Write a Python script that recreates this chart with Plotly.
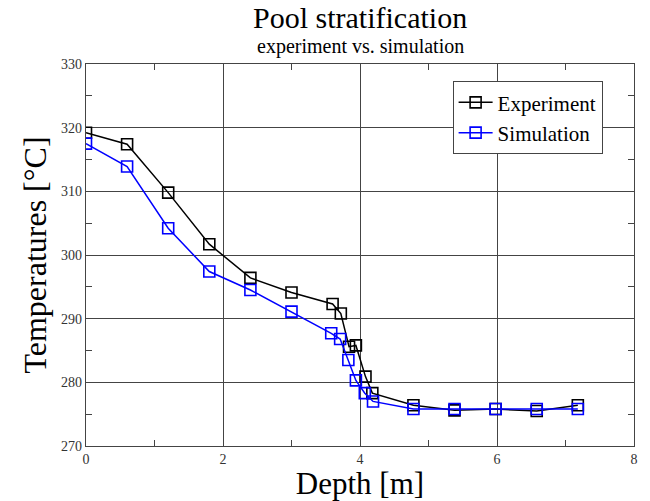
import plotly.graph_objects as go

depth_exp = [0, 0.6, 1.2, 1.8, 2.4, 3.0, 3.6, 3.72, 3.84, 3.94, 4.08, 4.18, 4.78, 5.38, 5.98, 6.58, 7.18]
temp_exp = [319.2, 317.4, 309.8, 301.7, 296.4, 294.1, 292.3, 290.8, 285.6, 285.8, 280.9, 278.3, 276.4, 275.6, 275.8, 275.5, 276.4]

depth_sim = [0, 0.6, 1.2, 1.8, 2.4, 3.0, 3.58, 3.71, 3.83, 3.94, 4.07, 4.19, 4.78, 5.38, 5.98, 6.58, 7.18]
temp_sim = [317.5, 313.9, 304.2, 297.4, 294.5, 291.1, 287.7, 286.8, 283.5, 280.3, 278.3, 277.0, 275.8, 275.8, 275.8, 275.8, 275.8]

FONT = "Liberation Serif"

fig = go.Figure()
fig.add_trace(go.Scatter(
    x=depth_exp, y=temp_exp, name="Experiment", mode="lines+markers",
    line=dict(color="black", width=1.5),
    marker=dict(symbol="square-open", size=11, color="black", line=dict(width=1.6)),
))
fig.add_trace(go.Scatter(
    x=depth_sim, y=temp_sim, name="Simulation", mode="lines+markers",
    line=dict(color="#0000ff", width=1.5),
    marker=dict(symbol="square-open", size=11, color="#0000ff", line=dict(width=1.6)),
))

axis_common = dict(
    showline=True, linecolor="#444", linewidth=1.2, mirror="allticks",
    ticks="inside", ticklen=0, tickcolor="#444",
    showgrid=True, gridcolor="#444", gridwidth=1,
    zeroline=False,
    tickfont=dict(family=FONT, size=14, color="#333"),
)

fig.update_xaxes(
    range=[0, 8], tickvals=[0, 2, 4, 6, 8],
    minor=dict(tickvals=[1, 3, 5, 7], ticks="inside", ticklen=6, tickcolor="#444", showgrid=False),
    title=dict(text="Depth [m]", font=dict(family=FONT, size=31, color="black"), standoff=0),
    **axis_common,
)
fig.update_yaxes(
    range=[270, 330], tickvals=[270, 280, 290, 300, 310, 320, 330],
    minor=dict(tickvals=[275, 285, 295, 305, 315, 325], ticks="inside", ticklen=6, tickcolor="#444", showgrid=False),
    title=dict(text="Temperatures [°C]", font=dict(family=FONT, size=32, color="black"), standoff=4),
    **axis_common,
)

fig.update_layout(
    width=650, height=501,
    margin=dict(l=86, r=14, t=64, b=52),
    paper_bgcolor="white", plot_bgcolor="white",
    showlegend=True,
    legend=dict(
        x=0.669, y=0.955, xanchor="left", yanchor="top",
        bgcolor="white", bordercolor="#444", borderwidth=1,
        font=dict(family=FONT, size=21, color="black"),
        itemwidth=34, tracegroupgap=0,
    ),
    annotations=[
        dict(text="Pool stratification", x=0.5, y=1, xref="paper", yref="paper",
             xanchor="center", yanchor="bottom", yshift=28, showarrow=False,
             font=dict(family=FONT, size=30, color="black")),
        dict(text="experiment vs. simulation", x=0.5, y=1, xref="paper", yref="paper",
             xanchor="center", yanchor="bottom", yshift=4, showarrow=False,
             font=dict(family=FONT, size=20, color="black")),
    ],
)

fig.write_html("out.html")
